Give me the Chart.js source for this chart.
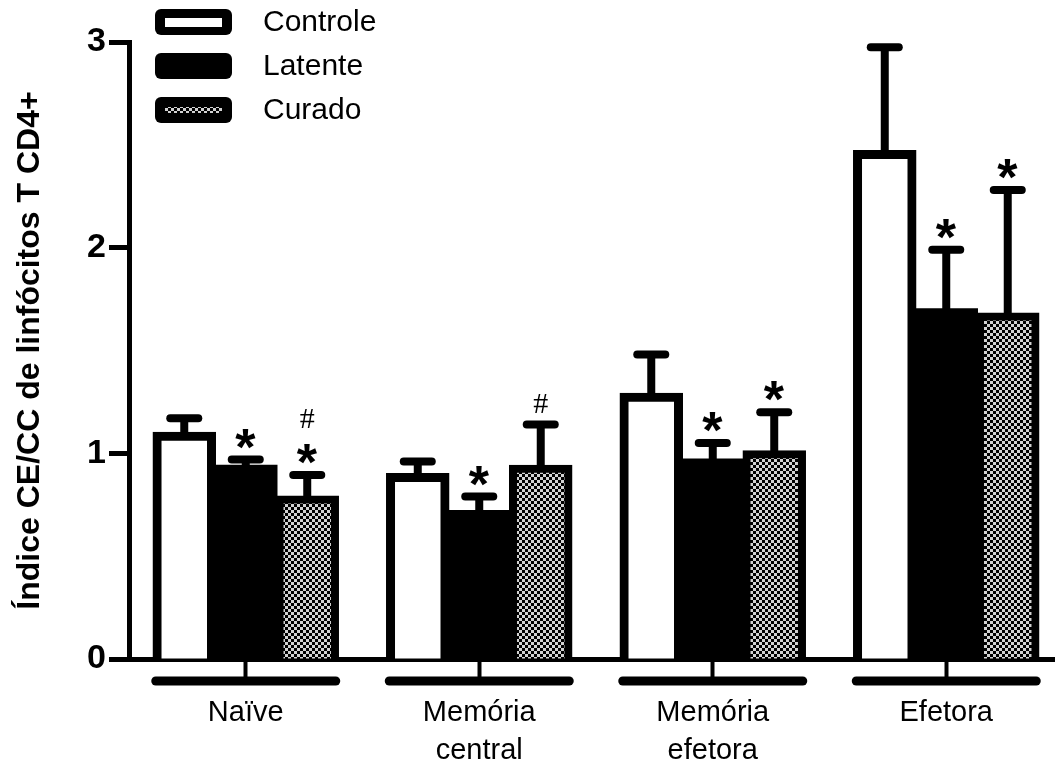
<!DOCTYPE html>
<html>
<head>
<meta charset="utf-8">
<script src="https://cdn.jsdelivr.net/npm/chart.js@4"></script>
<style>
  html, body { margin: 0; padding: 0; background: #fff; overflow: hidden; }
  #wrap { position: absolute; left: 0; top: 0; }
</style>
</head>
<body>
<div id="wrap"><canvas id="c" width="1063" height="762"></canvas></div>
<script>
// Cell subsets (x axis) and the three groups of subjects
const categories = [["Naïve"], ["Memória", "central"], ["Memória", "efetora"], ["Efetora"]];
const seriesNames = ["Controle", "Latente", "Curado"];

// Mean index per subset
const controle = [1.10, 0.90, 1.29, 2.47];
const latente  = [0.94, 0.72, 0.97, 1.70];
const curado   = [0.79, 0.94, 1.01, 1.68];

// Upper error (SEM) per subset
const controleErr = [0.07, 0.06, 0.19, 0.505];
const latenteErr  = [0.03, 0.07, 0.08, 0.29];
const curadoErr   = [0.105, 0.20, 0.19, 0.60];

// Significance marks above each bar, listed bottom to top
const controleMarks = [[], [], [], []];
const latenteMarks  = [["*"], ["*"], ["*"], ["*"]];
const curadoMarks   = [["*", "#"], ["#"], ["*"], ["*"]];

const yTicks = [0, 1, 2, 3];
const yTitle = "Índice CE/CC de linfócitos T CD4+";

const FONT = "'Liberation Sans', Arial, sans-serif";

// Checkerboard fill used for the "Curado" group
function makeChecker() {
  const t = document.createElement('canvas');
  t.width = 6; t.height = 6;
  const g = t.getContext('2d');
  g.fillStyle = '#d2d2d2';
  g.fillRect(0, 0, 6, 6);
  g.fillStyle = '#000';
  g.fillRect(0, 0, 3, 3);
  g.fillRect(3, 3, 3, 3);
  return document.getElementById('c').getContext('2d').createPattern(t, 'repeat');
}
const checker = makeChecker();

const errs = [controleErr, latenteErr, curadoErr];
const marks = [controleMarks, latenteMarks, curadoMarks];

// Draws one symbol with its ink centred on (cx, cy)
function drawCentered(ctx, ch, font, cx, cy) {
  ctx.font = font;
  ctx.textAlign = 'left';
  ctx.textBaseline = 'alphabetic';
  const m = ctx.measureText(ch);
  const w = m.actualBoundingBoxLeft + m.actualBoundingBoxRight;
  const x = cx - w / 2 + m.actualBoundingBoxLeft;
  const y = cy + (m.actualBoundingBoxAscent - m.actualBoundingBoxDescent) / 2;
  ctx.fillText(ch, x, y);
}

// Upper error bars with caps, plus significance symbols
const errorBarPlugin = {
  id: 'errorBars',
  afterDatasetsDraw(chart) {
    const ctx = chart.ctx;
    const ys = chart.scales.y;
    ctx.save();
    ctx.strokeStyle = '#000';
    ctx.fillStyle = '#000';
    chart.data.datasets.forEach((ds, i) => {
      const meta = chart.getDatasetMeta(i);
      meta.data.forEach((bar, j) => {
        const top = ys.getPixelForValue(ds.data[j] + errs[i][j]);
        ctx.lineWidth = 8;
        ctx.lineCap = 'butt';
        ctx.beginPath();
        ctx.moveTo(bar.x, bar.y + 2);
        ctx.lineTo(bar.x, top);
        ctx.stroke();
        ctx.lineCap = 'round';
        ctx.beginPath();
        ctx.moveTo(bar.x - 14, top);
        ctx.lineTo(bar.x + 14, top);
        ctx.stroke();
        let cy = top - 21;
        marks[i][j].forEach(m => {
          if (m === '*') drawCentered(ctx, m, 'bold 52px ' + FONT, bar.x, cy);
          else drawCentered(ctx, m, "30px 'Liberation Serif', 'Times New Roman', serif", bar.x, cy);
          cy -= 35;
        });
      });
    });
    ctx.restore();
  }
};

// Group brackets beneath the x axis
const bracketPlugin = {
  id: 'brackets',
  afterDraw(chart) {
    const ctx = chart.ctx;
    const xs = chart.scales.x;
    ctx.save();
    ctx.strokeStyle = '#000';
    ctx.lineWidth = 9;
    ctx.lineCap = 'round';
    categories.forEach((c, i) => {
      const cx = xs.getPixelForValue(i);
      ctx.beginPath();
      ctx.moveTo(cx - 90, 681);
      ctx.lineTo(cx + 90, 681);
      ctx.stroke();
    });
    ctx.restore();
  }
};

// Legend in the upper-left corner
function roundRect(ctx, x, y, w, h, r) {
  ctx.beginPath();
  ctx.moveTo(x + r, y);
  ctx.lineTo(x + w - r, y);
  ctx.arcTo(x + w, y, x + w, y + r, r);
  ctx.lineTo(x + w, y + h - r);
  ctx.arcTo(x + w, y + h, x + w - r, y + h, r);
  ctx.lineTo(x + r, y + h);
  ctx.arcTo(x, y + h, x, y + h - r, r);
  ctx.lineTo(x, y + r);
  ctx.arcTo(x, y, x + r, y, r);
  ctx.closePath();
}
const legendPlugin = {
  id: 'cornerLegend',
  afterDraw(chart) {
    const ctx = chart.ctx;
    ctx.save();
    chart.data.datasets.forEach((ds, i) => {
      const y0 = 9 + i * 44;
      roundRect(ctx, 155, y0, 77, 26, 6);
      ctx.fillStyle = '#000';
      ctx.fill();
      if (i !== 1) {
        ctx.fillStyle = ds.backgroundColor;
        if (i === 0) ctx.fillRect(165, y0 + 9, 57, 9);
        else ctx.fillRect(165, y0 + 10, 57, 6);
      }
      ctx.fillStyle = '#000';
      ctx.font = '30px ' + FONT;
      ctx.textAlign = 'left';
      ctx.textBaseline = 'middle';
      ctx.fillText(ds.label, 263, y0 + 14);
    });
    ctx.restore();
  }
};

const datasets = [
  { label: seriesNames[0], data: controle, backgroundColor: '#ffffff', borderWidth: 9 },
  { label: seriesNames[1], data: latente,  backgroundColor: '#000000', borderWidth: 0 },
  { label: seriesNames[2], data: curado,   backgroundColor: checker, borderWidth: 8 }
].map(d => Object.assign(d, {
  borderColor: '#000', borderSkipped: 'start', inflateAmount: 1,
  categoryPercentage: 0.79, barPercentage: 1.0
}));

new Chart(document.getElementById('c'), {
  type: 'bar',
  data: { labels: categories, datasets },
  options: {
    responsive: false,
    animation: false,
    devicePixelRatio: 1,
    layout: { padding: { top: 42, left: 0, right: 0, bottom: 0 } },
    plugins: { legend: { display: false }, tooltip: { enabled: false } },
    scales: {
      x: {
        grid: { display: true, drawOnChartArea: false, offset: false, color: '#000',
                tickLength: 22, tickWidth: 4 },
        border: { display: true, color: '#000', width: 5 },
        ticks: { color: '#000', font: { family: FONT, size: 29, lineHeight: 1.3 }, padding: 13,
                 maxRotation: 0, autoSkip: false },
        afterFit(s) { s.height = 103; }
      },
      y: {
        min: 0, max: 3,
        afterBuildTicks(s) { s.ticks = yTicks.map(v => ({ value: v })); },
        grid: { display: true, drawOnChartArea: false, color: '#000', tickLength: 20, tickWidth: 5 },
        border: { display: true, color: '#000', width: 5 },
        ticks: { color: '#000', font: { family: FONT, size: 34, weight: 'bold' }, padding: 3 },
        title: { display: true, text: yTitle, color: '#000',
                 font: { family: FONT, size: 32, weight: 'bold' }, padding: { top: 11, bottom: 0 } },
        afterFit(s) { s.width = 129; }
      }
    }
  },
  plugins: [errorBarPlugin, bracketPlugin, legendPlugin]
});
</script>
</body>
</html>
